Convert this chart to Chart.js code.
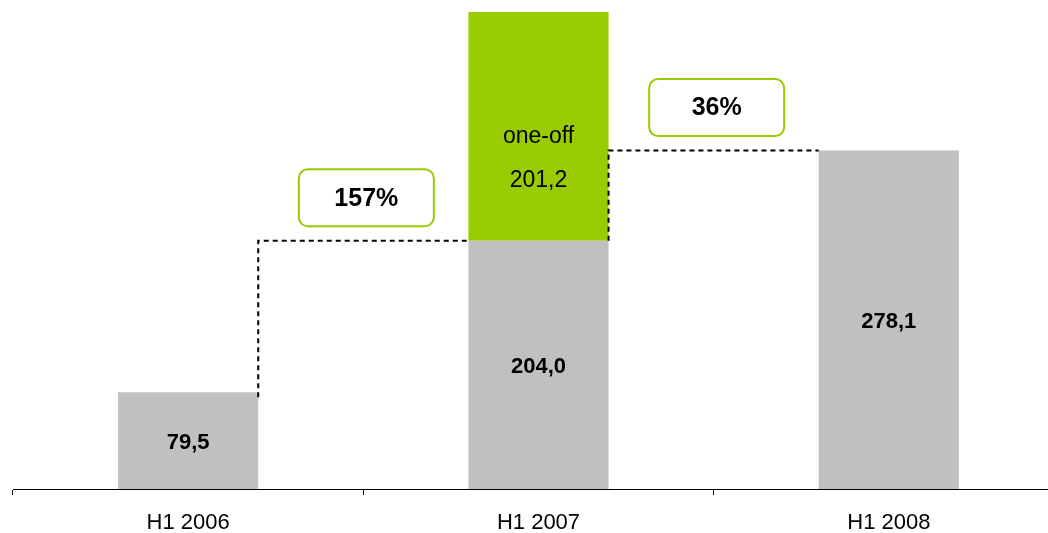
<!DOCTYPE html>
<html>
<head>
<meta charset="utf-8">
<script src="https://cdn.jsdelivr.net/npm/chart.js@4"></script>
<style>
html,body{margin:0;padding:0;background:#fff;overflow:hidden;}
canvas{display:block;}
</style>
</head>
<body>
<canvas id="c" width="1064" height="533"></canvas>
<script>
const categories = ['H1 2006', 'H1 2007', 'H1 2008'];
const baseValues = [79.5, 204.0, 278.1];
const oneOffValues = [null, 201.2, null];
const baseLabels = ['79,5', '204,0', '278,1'];
const oneOffLabel = ['one-off', '201,2'];
const growthLabels = ['157%', '36%'];

const GRAY = '#c0c0c0';
const GREEN = '#99cc00';
const FONT = '"Liberation Sans", Arial, Helvetica, sans-serif';

const annotate = {
  id: 'annotate',
  afterDatasetsDraw(chart) {
    const ctx = chart.ctx;
    const g = chart.getDatasetMeta(0).data;
    const o = chart.getDatasetMeta(1).data;
    const xs = chart.scales.x;
    ctx.save();
    ctx.fillStyle = '#000';
    ctx.textAlign = 'center';
    ctx.textBaseline = 'middle';
    ctx.font = 'bold 22px ' + FONT;
    g.forEach((b, i) => {
      ctx.fillText(baseLabels[i], b.x, (b.y + b.base) / 2 + 2);
    });
    const ob = o[1];
    ctx.font = '23px ' + FONT;
    ctx.fillText(oneOffLabel[0], ob.x, ob.base - 104);
    ctx.fillText(oneOffLabel[1], ob.x, ob.base - 60);

    ctx.strokeStyle = '#000';
    ctx.lineWidth = 2;
    ctx.setLineDash([5, 4]);
    ctx.beginPath();
    ctx.moveTo(g[0].x + g[0].width / 2, g[0].y + 5);
    ctx.lineTo(g[0].x + g[0].width / 2, g[1].y);
    ctx.lineTo(g[1].x - g[1].width / 2, g[1].y);
    ctx.stroke();
    ctx.beginPath();
    ctx.moveTo(g[1].x + g[1].width / 2, g[1].y);
    ctx.lineTo(g[1].x + g[1].width / 2, g[2].y);
    ctx.lineTo(g[2].x - g[2].width / 2, g[2].y);
    ctx.stroke();
    ctx.setLineDash([]);

    const levels = [g[1].y, g[2].y];
    growthLabels.forEach((t, i) => {
      const cx = (xs.getPixelForValue(i) + xs.getPixelForValue(i + 1)) / 2 + 3;
      const cy = levels[i] - 43;
      const w = 135, h = 57;
      ctx.beginPath();
      ctx.roundRect(cx - w / 2, cy - h / 2, w, h, 9);
      ctx.fillStyle = '#fff';
      ctx.fill();
      ctx.strokeStyle = GREEN;
      ctx.lineWidth = 2;
      ctx.stroke();
      ctx.fillStyle = '#000';
      ctx.font = 'bold 25px ' + FONT;
      ctx.fillText(t, cx, cy + 1);
    });
    ctx.restore();
  }
};

new Chart(document.getElementById('c'), {
  type: 'bar',
  data: {
    labels: categories,
    datasets: [
      { data: baseValues, backgroundColor: GRAY, borderWidth: 0, clip: 0 },
      { data: oneOffValues, backgroundColor: GREEN, borderWidth: 0, clip: 0 }
    ]
  },
  options: {
    responsive: false,
    animation: false,
    events: [],
    layout: { padding: { top: 12, left: 13, right: 0, bottom: 0 } },
    datasets: { bar: { categoryPercentage: 1.0, barPercentage: 0.4 } },
    plugins: { legend: { display: false }, tooltip: { enabled: false } },
    scales: {
      x: {
        stacked: true,
        offset: true,
        afterFit(s) { s.height = 44; },
        grid: { display: true, offset: true, drawOnChartArea: false, drawTicks: true, tickLength: 6, color: '#000', lineWidth: 1 },
        border: { display: true, color: '#000', width: 1 },
        ticks: { color: '#000', font: { family: FONT, size: 22 }, padding: 15 }
      },
      y: {
        stacked: true,
        display: false,
        min: 0,
        max: 392
      }
    }
  },
  plugins: [annotate]
});
</script>
</body>
</html>
